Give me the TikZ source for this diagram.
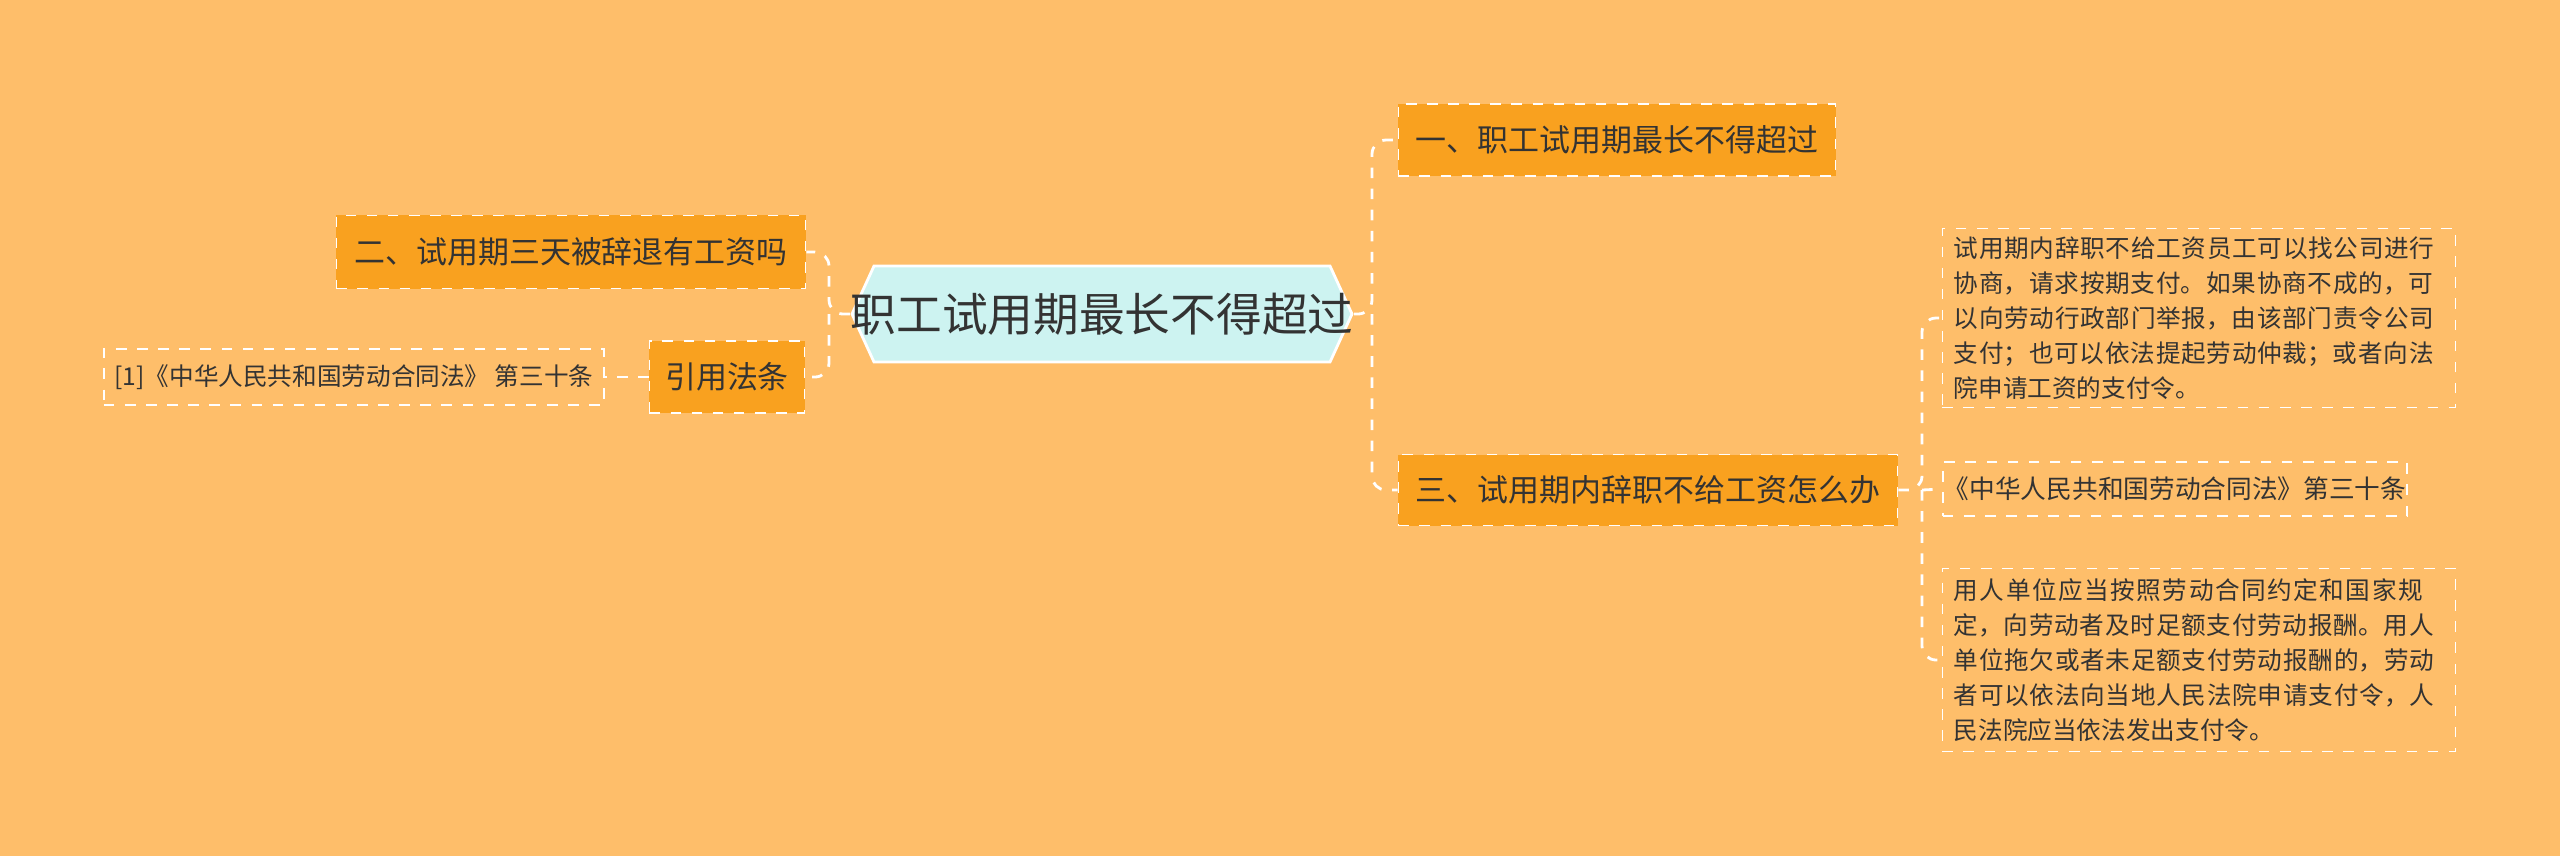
\documentclass[tikz,border=0pt]{standalone}
\usepackage{fontspec}
\setmainfont{Noto Sans CJK SC}
\XeTeXlinebreaklocale "zh"
\XeTeXlinebreakskip=0pt plus 1pt
\usetikzlibrary{shapes.misc}
\definecolor{bgorange}{HTML}{FEBE6A}
\definecolor{boxorange}{HTML}{F9A11F}
\definecolor{rootcyan}{HTML}{CDF3F1}
\definecolor{txt}{HTML}{333333}
\tikzset{
  topic/.style={draw=white,dashed,fill=boxorange,text=txt,font=\fontsize{8.8pt}{11pt}\selectfont,inner sep=0pt,anchor=center},
  leaf/.style={draw=white,dashed,text=txt,font=\fontsize{7pt}{10pt}\selectfont,inner sep=0pt,anchor=center},
  link/.style={draw=white,dashed,thick,rounded corners=4pt}
}
\begin{document}
\begin{tikzpicture}[x=0.01cm,y=-0.01cm]
  \useasboundingbox[fill=bgorange] (0,0) rectangle (2560,856);

  % central topic
  \filldraw[draw=white,thick,fill=rootcyan] (852,314) -- (874,266) -- (1330,266) -- (1352,314)
        -- (1330,362) -- (874,362) -- cycle;
  \node[text=txt,font=\fontsize{13pt}{16pt}\selectfont,minimum width=5cm,minimum height=0.96cm,inner sep=0pt]
        (root) at (1102,314) {职工试用期最长不得超过};

  % main branches
  \node[topic,minimum width=4.37cm,minimum height=0.72cm] (one) at (1617,140) {一、职工试用期最长不得超过};
  \node[topic,minimum width=4.99cm,minimum height=0.71cm] (three) at (1648,490) {三、试用期内辞职不给工资怎么办};
  \node[topic,minimum width=4.69cm,minimum height=0.73cm] (two) at (571,252) {二、试用期三天被辞退有工资吗};
  \node[topic,minimum width=1.55cm,minimum height=0.72cm] (cite) at (727,377) {引用法条};

  % leaves
  \node[leaf,minimum width=5cm,minimum height=0.56cm] (law) at (354,377)
        {[1]《中华人民共和国劳动合同法》 第三十条};
  \node[leaf,minimum width=5.13cm,minimum height=1.79cm,text width=4.9cm,align=left] (tipa) at (2199,318)
        {试用期内辞职不给工资员工可以找公司进行协商，请求按期支付。如果协商不成的，可以向劳动行政部门举报，由该部门责令公司支付；也可以依法提起劳动仲裁；或者向法院申请工资的支付令。};
  \node[leaf,font=\fontsize{7.3pt}{10pt}\selectfont,minimum width=4.64cm,minimum height=0.54cm] (tipb) at (2175,489)
        {《中华人民共和国劳动合同法》第三十条};
  \node[leaf,minimum width=5.13cm,minimum height=1.83cm,text width=4.9cm,align=left] (tipc) at (2199,660)
        {用人单位应当按照劳动合同约定和国家规定，向劳动者及时足额支付劳动报酬。用人单位拖欠或者未足额支付劳动报酬的，劳动者可以依法向当地人民法院申请支付令，人民法院应当依法发出支付令。};

  % connectors
  \coordinate (rjoin) at (1372,314);
  \coordinate (ljoin) at (829,314);
  \coordinate (tjoin) at (1922,490);
  \draw[link] (root.east) -- (rjoin) |- (one.west);
  \draw[link] (rjoin) |- (three.west);
  \draw[link] (root.west) -- (ljoin) |- (two.east);
  \draw[link] (ljoin) |- (cite.east);
  \draw[link] (cite.west) -- (law.east);
  \draw[link] (three.east) -- (tjoin) |- (tipa.west);
  \draw[link] (tjoin) -- (tipb.west);
  \draw[link] (tjoin) |- (tipc.west);
\end{tikzpicture}
\end{document}
